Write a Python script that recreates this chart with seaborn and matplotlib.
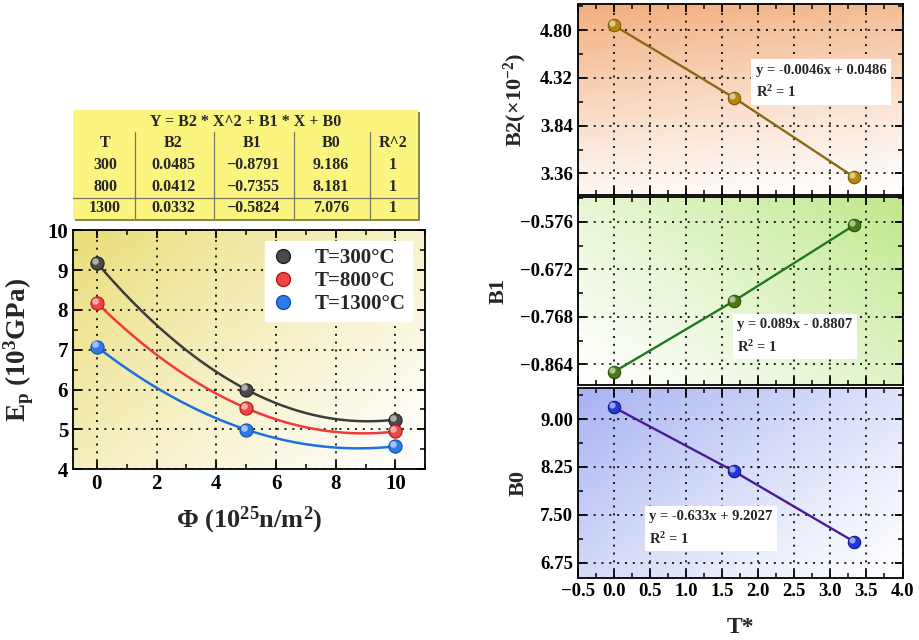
import numpy as np
import pandas as pd
import matplotlib
matplotlib.use("Agg")
import matplotlib.pyplot as plt
import seaborn as sns
from matplotlib.ticker import MultipleLocator, FixedLocator
from matplotlib import transforms
from matplotlib.lines import Line2D
from matplotlib.patches import Rectangle

# ---------------- data ----------------
phi = [0, 5, 10]
temp_labels = ["T=300°C", "T=800°C", "T=1300°C"]
ep_300 = [9.19, 6.00, 5.24]
ep_800 = [8.18, 5.53, 4.95]
ep_1300 = [7.08, 4.99, 4.57]

table_T = ["300", "800", "1300"]
table_B2 = [0.0485, 0.0412, 0.0332]
table_B1 = [-0.8791, -0.7355, -0.5824]
table_B0 = [9.186, 8.181, 7.076]
table_R2 = ["1", "1", "1"]

t_star = [0.0, 1.667, 3.333]
b2_scaled = [4.85, 4.12, 3.32]
b1_vals = [-0.8791, -0.7355, -0.5824]
b0_vals = [9.186, 8.181, 7.076]

b2_ticks = [3.36, 3.84, 4.32, 4.80]
b1_ticks = [-0.864, -0.768, -0.672, -0.576]
b0_ticks = [6.75, 7.50, 8.25, 9.00]

eq_b2 = "y = -0.0046x + 0.0486\nR$^2$ = 1"
eq_b1 = "y = 0.089x - 0.8807\nR$^2$ = 1"
eq_b0 = "y = -0.633x + 9.2027\nR$^2$ = 1"

# ---------------- style ----------------
sns.set_theme(style="ticks")
plt.rcParams.update({
    "font.family": ["Liberation Serif", "DejaVu Serif"],
    "font.weight": "bold",
    "axes.labelweight": "bold",
    "mathtext.fontset": "custom",
    "mathtext.rm": "Liberation Serif:bold",
    "mathtext.it": "Liberation Serif:bold",
    "mathtext.bf": "Liberation Serif:bold",
    "xtick.direction": "in",
    "ytick.direction": "in",
    "axes.edgecolor": "black",
    "axes.linewidth": 1.3,
    "xtick.color": "black",
    "ytick.color": "black",
    "axes.unicode_minus": True,
})

fig = plt.figure(figsize=(9.2, 6.4), dpi=100)


def gradient(ax, color, mode):
    n = 200
    xx, yy = np.meshgrid(np.linspace(0, 1, n), np.linspace(1, 0, n))
    if mode == "tl":
        t = ((1 - xx) * 0.55 + yy * 0.45)
    elif mode == "top":
        t = yy * 0.85 + (1 - xx) * 0.15
    elif mode == "tr":
        t = (xx * 0.55 + yy * 0.45)
    t = np.clip(t, 0, 1) ** 1.2
    c = np.array(matplotlib.colors.to_rgb(color))
    img = 1 - t[..., None] * (1 - c[None, None, :])
    ax.imshow(img, extent=[0, 1, 0, 1], transform=ax.transAxes,
              aspect="auto", zorder=0, interpolation="bilinear")


def style_axes(ax):
    ax.tick_params(which="both", top=True, right=True, direction="in")
    ax.tick_params(which="major", length=6, width=1.3)
    ax.tick_params(which="minor", length=3.5, width=1.1)
    ax.grid(True, which="major", linestyle=(0, (1.2, 3.5)), color="black",
            linewidth=1.2, zorder=1)
    ax.set_axisbelow(False)
    for s in ax.spines.values():
        s.set_linewidth(1.3)
        s.set_zorder(5)


def spheres(ax, x, y, base, edge, size):
    sns.scatterplot(x=x, y=y, ax=ax, s=size, color=base, edgecolor=edge,
                    linewidth=0.8, zorder=6, legend=False)
    off = transforms.offset_copy(ax.transData, fig=fig, x=-1.5, y=1.5, units="points")
    ax.scatter(x, y, s=size * 0.25, color="white", alpha=0.55, zorder=7,
               transform=off, linewidths=0)


# ---------------- left plot ----------------
axL = fig.add_axes([0.0793, 0.267, 0.383, 0.373])
gradient(axL, "#EADD78", "tl")
style_axes(axL)

curve_x = np.linspace(0, 10, 200)
series = [(ep_300, "#3C3C3C", "#4A4A4A", "#202020"),
          (ep_800, "#F03A3A", "#F04545", "#B01818"),
          (ep_1300, "#1E6FE0", "#2E7AE8", "#0F4FB0")]
for i, (vals, lc, mc, ec) in enumerate(series):
    coefs = [table_B2[i], table_B1[i], table_B0[i]]
    sns.lineplot(x=curve_x, y=np.polyval(coefs, curve_x), ax=axL, color=lc,
                 linewidth=1.8, zorder=4)
    spheres(axL, phi, vals, mc, ec, 90)

axL.set_xlim(-0.8, 11)
axL.set_ylim(4, 10)
axL.xaxis.set_major_locator(MultipleLocator(2))
axL.xaxis.set_minor_locator(MultipleLocator(1))
axL.yaxis.set_major_locator(MultipleLocator(1))
axL.yaxis.set_minor_locator(MultipleLocator(0.5))
axL.tick_params(labelsize=15)
for lab in axL.get_xticklabels() + axL.get_yticklabels():
    lab.set_fontweight("bold")
axL.set_xlabel("Φ (10$^{25}$n/m$^{2}$)", fontsize=19, fontweight="bold", labelpad=8)
axL.set_ylabel("E$_{\\rm p}$ (10$^{3}$GPa)", fontsize=19.5, fontweight="bold", labelpad=8)

handles = [Line2D([], [], marker="o", linestyle="none", markersize=10,
                  markerfacecolor=c[2], markeredgecolor=c[3]) for c in series]
leg = axL.legend(handles, temp_labels, loc="upper right", bbox_to_anchor=(0.975, 0.975),
                 frameon=True, fancybox=False, framealpha=1, edgecolor="white",
                 prop={"size": 15, "weight": "bold"}, handletextpad=1.0,
                 borderpad=0.35, labelspacing=0.15, handlelength=1.0,
                 borderaxespad=0.2)
leg.set_zorder(10)

# ---------------- table ----------------
axT = fig.add_axes([0.0793, 0.658, 0.375, 0.170])
axT.set_xlim(0, 1)
axT.set_ylim(0, 1)
axT.axis("off")
axT.add_patch(Rectangle((0.005, -0.02), 1.0, 1.0, transform=axT.transAxes,
                        facecolor="#8A8A50", edgecolor="none", zorder=0, clip_on=False))
axT.add_patch(Rectangle((0, 0), 1, 1, transform=axT.transAxes,
                        facecolor="#FBF47E", edgecolor="none", zorder=1, clip_on=False))
col_x = [0.093, 0.29, 0.52, 0.748, 0.928]
sep_x = [0.18, 0.41, 0.64, 0.86]
row_y = [0.497, 0.293, 0.10]
tk = dict(ha="center", va="center", fontsize=11.5, fontweight="bold", zorder=3,
          transform=axT.transAxes)
axT.text(0.5, 0.893, "Y = B2 * X^2 + B1 * X + B0", **tk)
for cx, h in zip(col_x, ["T", "B2", "B1", "B0", "R^2"]):
    axT.text(cx, 0.695, h, **tk)
for i in range(3):
    cells = [table_T[i], f"{table_B2[i]:.4f}", f"{table_B1[i]:.4f}".replace("-", "\u2212"),
             f"{table_B0[i]:.3f}", table_R2[i]]
    for cx, c in zip(col_x, cells):
        axT.text(cx, row_y[i], c, **tk)
for sx in sep_x:
    axT.plot([sx, sx], [0, 0.80], color="#777760", linewidth=0.9, zorder=2)
axT.plot([0, 1], [0.192, 0.192], color="#777760", linewidth=0.9, zorder=2)

# ---------------- right plots ----------------
right = [
    (0.695, 0.298, b2_scaled, b2_ticks, (3.14, 5.06), "#F2AE7E", "top",
     "#8B6914", "#B8860B", "#7A5A08", "B2(×10$^{-2}$)", eq_b2, (0.548, 0.69)),
    (0.398, 0.294, b1_vals, b1_ticks, (-0.906, -0.526), "#BEE88A", "tr",
     "#1F7A1F", "#4A7A18", "#2E5008", "B1", eq_b1, (0.49, 0.356)),
    (0.0969, 0.297, b0_vals, b0_ticks, (6.51, 9.49), "#A6B2F2", "tl",
     "#4B1A9A", "#2038D8", "#101C90", "B0", eq_b0, (0.22, 0.358)),
]
axes_r = []
for (bot, h, vals, ticks, ylim, bg, mode, lc, mc, ec, ylab, eq, eqpos) in right:
    ax = fig.add_axes([0.628, bot, 0.353, h])
    gradient(ax, bg, mode)
    style_axes(ax)
    sns.lineplot(x=t_star, y=vals, ax=ax, color=lc, linewidth=1.7, zorder=4)
    spheres(ax, t_star, vals, mc, ec, 80)
    ax.set_xlim(-0.5, 4.0)
    ax.set_ylim(*ylim)
    ax.xaxis.set_major_locator(MultipleLocator(0.5))
    ax.xaxis.set_minor_locator(MultipleLocator(0.25))
    ax.yaxis.set_major_locator(FixedLocator(ticks))
    step = ticks[1] - ticks[0]
    ax.yaxis.set_minor_locator(FixedLocator(
        [ticks[0] - step / 2] + [t + step / 2 for t in ticks]))
    if ylab == "B1":
        ax.set_yticklabels([f"{t:.3f}".replace("-", "\u2212") for t in ticks])
    else:
        ax.set_yticklabels([f"{t:.2f}" for t in ticks])
    ax.tick_params(labelsize=13.5)
    for lab in ax.get_yticklabels():
        lab.set_fontweight("bold")
    ax.set_ylabel(ylab, fontsize=16, fontweight="bold", labelpad=8)
    ax.text(eqpos[0], eqpos[1], eq, transform=ax.transAxes, ha="left", va="top",
            fontsize=10.5, fontweight="bold", linespacing=1.6, zorder=8,
            bbox=dict(boxstyle="square,pad=0.3", facecolor="white", edgecolor="none"))
    axes_r.append(ax)

for ax in axes_r[:2]:
    ax.tick_params(labelbottom=False)
axes_r[2].set_xlabel("T*", fontsize=17, fontweight="bold", labelpad=12)
for lab in axes_r[2].get_xticklabels():
    lab.set_fontweight("bold")
fig.align_ylabels(axes_r)

fig.savefig("out.png", dpi=100)
